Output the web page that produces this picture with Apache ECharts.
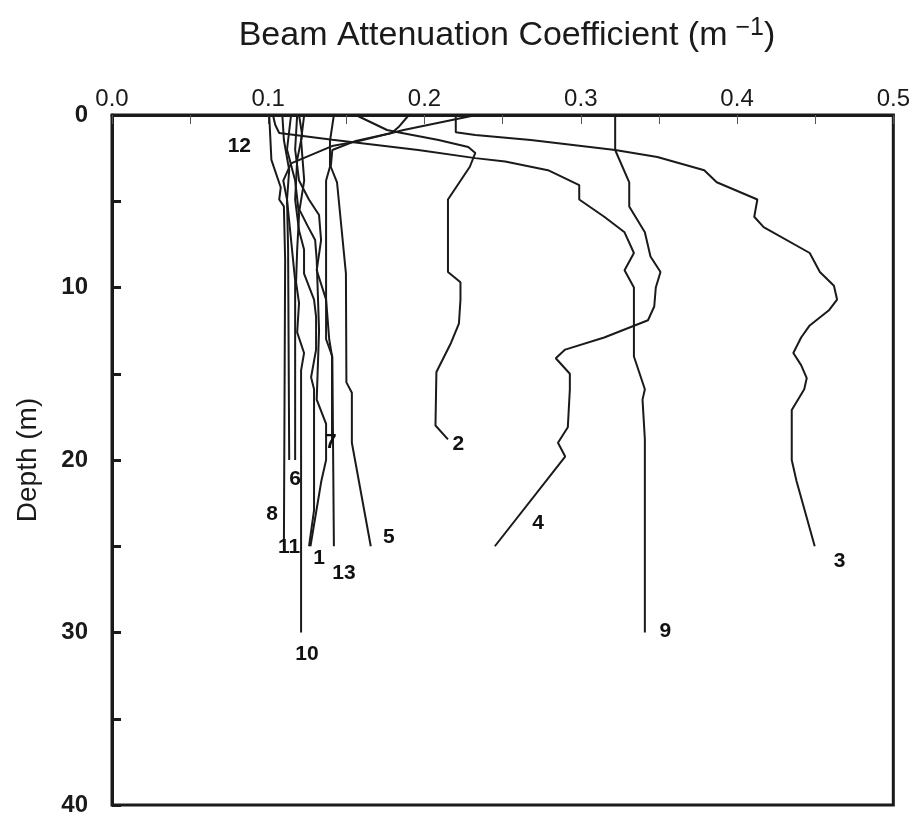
<!DOCTYPE html>
<html lang="en">
  <head>
    <meta charset="UTF-8" />
    <title>Beam attenuation profiles</title>
    <script src="https://cdn.jsdelivr.net/npm/echarts@6.0.0/dist/echarts.min.js"></script>
  </head>
  <body style="margin:0;background:#fff">
    <div id="main" style="width: 913px; height: 819px"></div>
    <script type="text/javascript">
      // profiles: [beam attenuation (1/m), depth (m)]
      const p1 = [[0.123, 0], [0.121, 1.45], [0.123, 3.8], [0.120, 5.5], [0.125, 6.4], [0.130, 7.25], [0.131, 8.4], [0.1325, 12.5], [0.131, 16.5], [0.137, 17.9], [0.137, 20], [0.134, 21.2], [0.127, 25]];
      const p2 = [[0.156, 0], [0.176, 0.87], [0.183, 1.0], [0.209, 1.45], [0.228, 1.86], [0.2325, 2.2], [0.229, 3.0], [0.215, 4.9], [0.215, 9.1], [0.223, 9.7], [0.223, 10.7], [0.222, 12.1], [0.217, 13.2], [0.2076, 14.9], [0.207, 18.0], [0.215, 18.8]];
      const p3 = [[0.220, 0], [0.220, 1.0], [0.2325, 1.16], [0.268, 1.45], [0.322, 2.03], [0.349, 2.43], [0.379, 3.2], [0.387, 3.9], [0.413, 4.9], [0.411, 5.9], [0.417, 6.5], [0.4465, 8.0], [0.453, 9.1], [0.462, 9.9], [0.464, 10.7], [0.459, 11.3], [0.4465, 12.2], [0.441, 12.9], [0.436, 13.8], [0.441, 14.5], [0.4446, 15.25], [0.443, 15.9], [0.435, 17.1], [0.435, 20.0], [0.438, 21.2], [0.4497, 25]];
      const p4 = [[0.322, 0], [0.322, 2.03], [0.331, 3.9], [0.331, 5.3], [0.341, 6.8], [0.3446, 8.2], [0.351, 9.1], [0.348, 10.0], [0.347, 11.1], [0.343, 11.9], [0.315, 12.9], [0.290, 13.6], [0.284, 14.1], [0.293, 15.0], [0.293, 15.9], [0.2917, 18.1], [0.2854, 19.0], [0.290, 19.8], [0.245, 25]];
      const p5 = [[0.190, 0], [0.1834, 0.7], [0.179, 1.04], [0.156, 1.5], [0.141, 2.03], [0.140, 3.0], [0.144, 3.9], [0.1497, 9.2], [0.150, 15.5], [0.1535, 16.1], [0.1535, 19.0], [0.1656, 25]];
      const p6 = [[0.109, 0], [0.110, 1.45], [0.1134, 3.2], [0.112, 4.9], [0.1146, 7.25], [0.1172, 9.6], [0.1172, 20]];
      const p7 = [[0.1185, 0], [0.1172, 2.0], [0.1197, 3.8], [0.126, 4.9], [0.1325, 5.8], [0.1338, 7.25], [0.131, 9.0], [0.137, 10.7], [0.139, 13.0], [0.1408, 14.0], [0.1408, 19]];
      const p8 = [[0.1006, 0], [0.102, 2.6], [0.108, 4.2], [0.107, 4.9], [0.110, 5.3], [0.1108, 8.4], [0.110, 25]];
      const p9 = [[0.103, 0], [0.1045, 0.58], [0.107, 1.04], [0.141, 1.43], [0.196, 2.03], [0.2325, 2.5], [0.2516, 2.7], [0.279, 3.2], [0.299, 4.06], [0.299, 4.9], [0.315, 5.9], [0.328, 6.8], [0.334, 8.0], [0.328, 9.0], [0.334, 10.0], [0.334, 14.0], [0.341, 15.9], [0.3395, 16.5], [0.341, 18.8], [0.341, 30]];
      const p10 = [[0.1146, 0], [0.112, 2.0], [0.1172, 3.8], [0.1197, 5.8], [0.1185, 7.8], [0.1178, 9.7], [0.1197, 10.9], [0.1185, 12.6], [0.1229, 13.8], [0.121, 14.8], [0.121, 30]];
      const p11 = [[0.1197, 0], [0.1217, 1.16], [0.1185, 2.6], [0.1172, 4.9], [0.1197, 6.7], [0.1229, 7.8], [0.1229, 9.2], [0.1293, 10.7], [0.1306, 11.7], [0.1306, 13.6], [0.1274, 15.2], [0.1293, 15.9], [0.1293, 22.9], [0.1261, 25]];
      const p12 = [[0.2331, 0], [0.1866, 0.87], [0.1586, 1.5], [0.1408, 1.8], [0.1146, 2.8], [0.1096, 3.8], [0.112, 4.9], [0.1127, 7.8], [0.1134, 20]];
      const p13 = [[0.142, 0], [0.1395, 1.5], [0.1395, 3.0], [0.137, 3.8], [0.137, 13.0], [0.141, 14.0], [0.142, 25]];

      const profiles = [p1, p2, p3, p4, p5, p6, p7, p8, p9, p10, p11, p12, p13];
      const profileNames = ['1', '2', '3', '4', '5', '6', '7', '8', '9', '10', '11', '12', '13'];

      // where each profile number is written
      const labelPos = [[0.1325, 25.7], [0.2217, 19.07], [0.4656, 25.86], [0.2726, 23.65], [0.1771, 24.46], [0.1172, 21.1], [0.1401, 18.96], [0.1025, 23.13], [0.3541, 29.91], [0.1248, 31.25], [0.1134, 25.04], [0.0815, 1.8], [0.1484, 26.55]];

      const xTicks = [0, 0.1, 0.2, 0.3, 0.4, 0.5];
      const depthTicks = [0, 10, 20, 30, 40];

      let myChart = echarts.init(document.getElementById('main'));

      let series = profiles.map((p, i) => ({
        name: profileNames[i],
        type: 'line',
        data: p,
        showSymbol: false,
        symbol: 'none',
        lineStyle: { color: '#1a1a1a', width: 2 },
        silent: true,
        z: 3
      }));

      series.push({
        type: 'scatter',
        symbolSize: 0,
        itemStyle: { opacity: 1, color: '#111' },
        data: labelPos.map((p, i) => ({ value: p, name: profileNames[i] })),
        label: {
          show: true,
          position: [0, 0],
          align: 'center',
          verticalAlign: 'middle',
          formatter: (d) => d.name,
          color: '#111',
          opacity: 1,
          textBorderWidth: 0,
          fontSize: 21,
          fontWeight: 'bold',
          fontFamily: 'Liberation Sans'
        },
        silent: true,
        z: 4
      });

      let options = {
        animation: false,
        backgroundColor: '#fff',
        title: {
          text: 'Beam Attenuation Coefficient (m{sup|−1})',
          left: 502,
          top: 11,
          textAlign: 'center',
          textStyle: {
            fontSize: 34,
            fontWeight: 'normal',
            color: '#1a1a1a',
            fontFamily: 'Liberation Sans Narrow, Liberation Sans',
            rich: {
              sup: { fontSize: 25, verticalAlign: 'top', padding: [0, 0, 14, 8], fontFamily: 'Liberation Sans' }
            }
          }
        },
        grid: {
          left: 112,
          top: 115,
          right: 16,
          bottom: 14,
          show: true,
          borderColor: '#1a1a1a',
          borderWidth: 3,
          backgroundColor: 'transparent'
        },
        xAxis: {
          type: 'value',
          position: 'top',
          min: xTicks[0],
          max: xTicks[xTicks.length - 1],
          interval: 0.1,
          axisLine: { show: true, lineStyle: { color: '#1a1a1a', width: 3 } },
          axisTick: { show: true, inside: true, length: 9, lineStyle: { color: '#555', width: 1 } },
          minorTick: { show: true, splitNumber: 2, length: 9, lineStyle: { color: '#555', width: 1 } },
          splitLine: { show: false },
          axisLabel: {
            margin: 4,
            fontSize: 24,
            color: '#1a1a1a',
            fontFamily: 'Liberation Sans Narrow, Liberation Sans',
            formatter: (v) => v.toFixed(1)
          }
        },
        yAxis: {
          type: 'value',
          inverse: true,
          min: depthTicks[0],
          max: depthTicks[depthTicks.length - 1],
          interval: 10,
          name: 'Depth (m)',
          nameLocation: 'middle',
          nameGap: 70,
          nameRotate: 90,
          nameTextStyle: { fontSize: 28, color: '#1a1a1a', fontFamily: 'Liberation Sans' },
          axisLine: { show: true, lineStyle: { color: '#1a1a1a', width: 3 } },
          axisTick: { show: true, inside: true, length: 9, lineStyle: { color: '#1a1a1a', width: 3 } },
          minorTick: { show: true, splitNumber: 2, length: 9, lineStyle: { color: '#1a1a1a', width: 3 } },
          splitLine: { show: false },
          axisLabel: {
            margin: 24,
            fontSize: 24,
            fontWeight: 'bold',
            color: '#1a1a1a',
            fontFamily: 'Liberation Sans'
          }
        },
        series: series
      };

      myChart.setOption(options);
    </script>
  </body>
</html>
